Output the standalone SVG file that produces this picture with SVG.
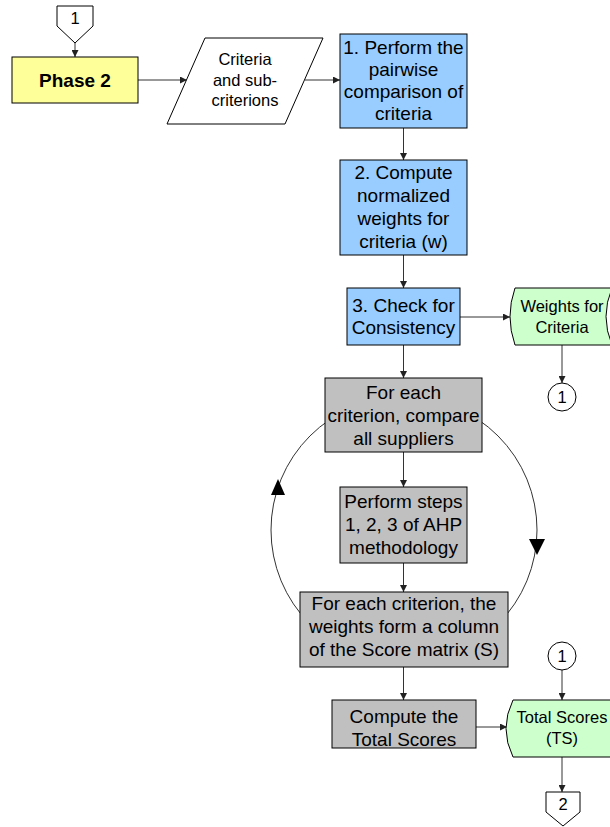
<svg xmlns="http://www.w3.org/2000/svg" width="610" height="827" viewBox="0 0 610 827">
<defs>
<marker id="ah" viewBox="0 0 10 10" refX="10" refY="5" markerWidth="7" markerHeight="7" markerUnits="userSpaceOnUse" orient="auto">
<path d="M0,0 L10,5 L0,10 Z" fill="#222"/>
</marker>
<style>
.box{stroke:#000;stroke-width:1}
.blue{fill:#99CCFF}
.gray{fill:#C0C0C0}
.green{fill:#CCFFCC}
.yellow{fill:#FFFF99}
.white{fill:#fff}
.t{font-family:"Liberation Sans",Arial,sans-serif;font-size:19px;fill:#000;text-anchor:middle}
.s{font-family:"Liberation Sans",Arial,sans-serif;font-size:16.5px;fill:#000;text-anchor:middle}
.c{stroke:#333;stroke-width:1;fill:none}
</style>
</defs>
<rect width="610" height="827" fill="#fff"/>

<g id="connectors">
<circle cx="404" cy="530" r="133" class="c" stroke="#000"/>
<path d="M271,495 L278,479 L285,495 Z" fill="#000"/>
<path d="M529,539 L537,555 L545,539 Z" fill="#000"/>
<line x1="75" y1="43" x2="75" y2="57" class="c" marker-end="url(#ah)"/>
<line x1="138" y1="80" x2="187" y2="80" class="c" marker-end="url(#ah)"/>
<line x1="305" y1="80" x2="340" y2="80" class="c" marker-end="url(#ah)"/>
<line x1="403.5" y1="128" x2="403.5" y2="160" class="c" marker-end="url(#ah)"/>
<line x1="403.5" y1="255" x2="403.5" y2="288" class="c" marker-end="url(#ah)"/>
<line x1="403.5" y1="345" x2="403.5" y2="378" class="c" marker-end="url(#ah)"/>
<line x1="460" y1="317" x2="510" y2="317" class="c" marker-end="url(#ah)"/>
<line x1="562" y1="345" x2="562" y2="383" class="c" marker-end="url(#ah)"/>
<line x1="403.5" y1="452" x2="403.5" y2="487" class="c" marker-end="url(#ah)"/>
<line x1="403.5" y1="563" x2="403.5" y2="592" class="c" marker-end="url(#ah)"/>
<line x1="403.5" y1="667" x2="403.5" y2="700" class="c" marker-end="url(#ah)"/>
<line x1="476" y1="727" x2="507" y2="727" class="c" marker-end="url(#ah)"/>
<line x1="562" y1="670" x2="562" y2="700" class="c" marker-end="url(#ah)"/>
<line x1="562" y1="757" x2="562" y2="792" class="c" marker-end="url(#ah)"/>
</g>

<g id="offpage1">
<path d="M57,6 L93,6 L93,26 L75,43 L57,26 Z" class="box white"/>
<text x="75" y="24" class="s">1</text>
</g>

<g id="phase2">
<rect x="12" y="57" width="126" height="46" class="box yellow"/>
<text x="75" y="87" class="t" font-weight="bold">Phase 2</text>
</g>

<g id="criteria-input">
<path d="M205,38 L323,38 L285,124 L167,124 Z" class="box white"/>
<text x="245" y="65" class="s">Criteria</text>
<text x="245" y="85.5" class="s">and sub-</text>
<text x="245" y="106" class="s">criterions</text>
</g>

<g id="step1">
<rect x="340" y="34" width="127" height="94" class="box blue"/>
<text x="403.5" y="54" class="t">1. Perform the</text>
<text x="403.5" y="76" class="t">pairwise</text>
<text x="403.5" y="98" class="t">comparison of</text>
<text x="403.5" y="120" class="t">criteria</text>
</g>

<g id="step2">
<rect x="340" y="160" width="127" height="95" class="box blue"/>
<text x="403.5" y="179" class="t">2. Compute</text>
<text x="403.5" y="202" class="t">normalized</text>
<text x="403.5" y="225" class="t">weights for</text>
<text x="403.5" y="248" class="t">criteria (w)</text>
</g>

<g id="step3">
<rect x="347" y="288" width="113" height="57" class="box blue"/>
<text x="403.5" y="312" class="t">3. Check for</text>
<text x="403.5" y="334" class="t">Consistency</text>
</g>

<g id="weights">
<path d="M515,288 L612,288 Q600,316.5 612,345 L515,345 Q505,316.5 515,288 Z" class="box green"/>
<text x="562" y="312" class="s" font-size="17">Weights for</text>
<text x="562" y="333" class="s" font-size="17">Criteria</text>
</g>

<g id="connector1a">
<circle cx="562" cy="397" r="14" class="box white"/>
<text x="562" y="403" class="s" font-size="16">1</text>
</g>

<g id="compare">
<rect x="325" y="378" width="157" height="74" class="box gray"/>
<text x="403.5" y="399" class="t">For each</text>
<text x="403.5" y="422" class="t">criterion, compare</text>
<text x="403.5" y="445" class="t">all suppliers</text>
</g>

<g id="ahp">
<rect x="340" y="487" width="127" height="76" class="box gray"/>
<text x="403.5" y="508" class="t">Perform steps</text>
<text x="403.5" y="531" class="t">1, 2, 3 of AHP</text>
<text x="403.5" y="554" class="t">methodology</text>
</g>

<g id="score-matrix">
<rect x="300" y="592" width="208" height="75" class="box gray"/>
<text x="404" y="610" class="t">For each criterion, the</text>
<text x="404" y="633" class="t">weights form a column</text>
<text x="404" y="656" class="t">of the Score matrix (S)</text>
</g>

<g id="connector1b">
<circle cx="562" cy="656" r="14" class="box white"/>
<text x="562" y="662" class="s" font-size="16">1</text>
</g>

<g id="compute-total">
<rect x="332" y="700" width="144" height="48" class="box gray"/>
<text x="404" y="723" class="t">Compute the</text>
<text x="404" y="746" class="t">Total Scores</text>
</g>

<g id="total-scores">
<path d="M513,700 L620,700 L620,757 L513,757 Q499,728.5 513,700 Z" class="box green"/>
<text x="562" y="723" class="s" font-size="16">Total Scores</text>
<text x="562" y="744" class="s" font-size="16">(TS)</text>
</g>

<g id="offpage2">
<path d="M546,792 L580,792 L580,812 L563,826 L546,812 Z" class="box white"/>
<text x="563" y="810" class="s">2</text>
</g>
</svg>
